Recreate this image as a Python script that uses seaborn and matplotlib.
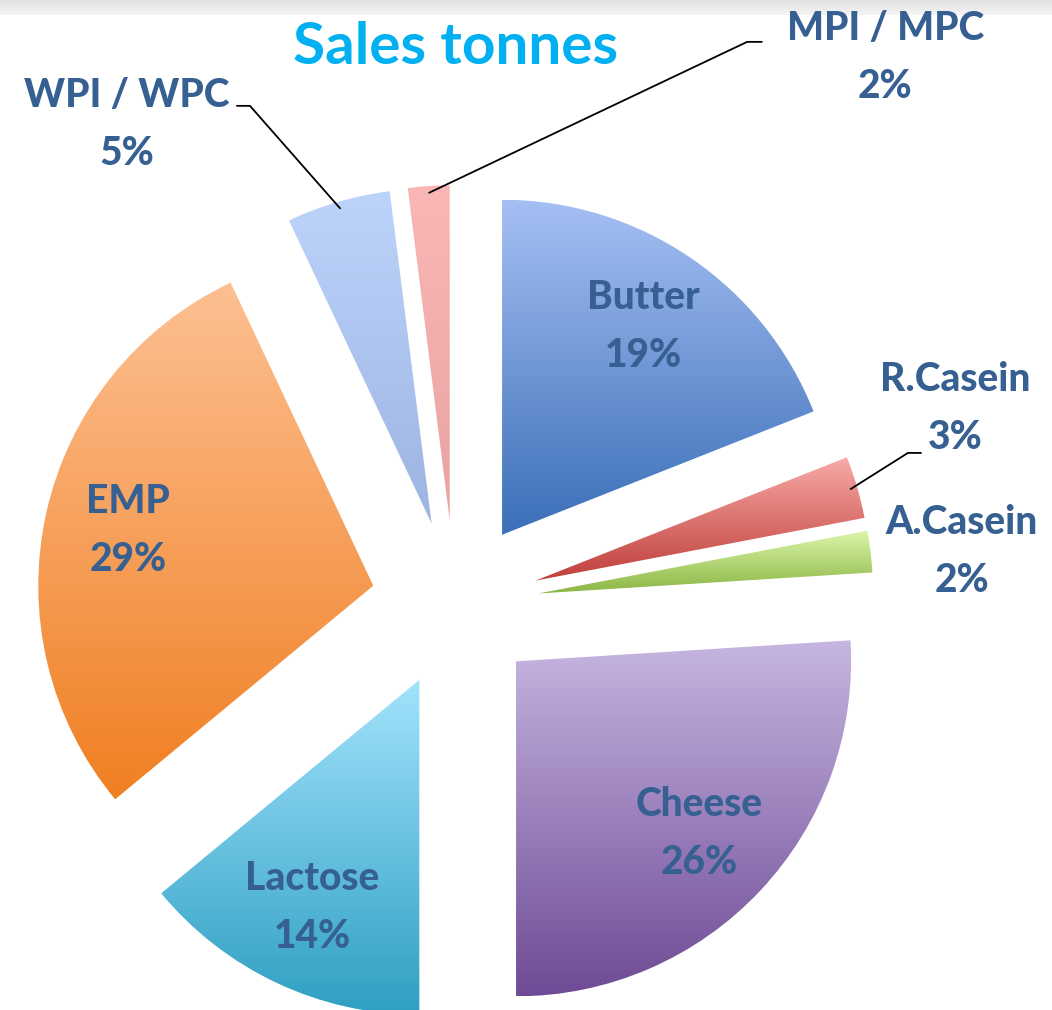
import numpy as np
import seaborn as sns
import matplotlib.pyplot as plt
from matplotlib.colors import LinearSegmentedColormap

sns.set_theme(style="white")
plt.rcParams["font.family"] = ["Lato", "DejaVu Sans"]

# sales share (%) clockwise from 12 o'clock
products = ["Butter", "R.Casein", "A.Casein", "Cheese", "Lactose", "EMP", "WPI / WPC", "MPI / MPC"]
shares = [19, 3, 2, 26, 14, 29, 5, 2]
top_colours = ["#a5bff3", "#f8aaa7", "#daf6aa", "#c7b6e1", "#a2e3fc", "#fdc092", "#bcd3fb", "#fbb7b5"]
bottom_colours = ["#3b6fb8", "#bf3f3a", "#8bb443", "#6e4b95", "#2e9fc2", "#f07f22", "#9db4e2", "#e8a2a2"]
inside = ["Butter", "Cheese", "Lactose", "EMP"]

text_col = "#376092"
label_kw = dict(ha="center", va="center", fontsize=28, fontweight=900,
                color=text_col, linespacing=1.7, zorder=3)

fig = plt.figure(figsize=(10.52, 10.10), dpi=100)

# faint grey band along the top edge
band = fig.add_axes([0, 1 - 15 / 1010, 1, 15 / 1010])
band.imshow(np.linspace(0, 1, 50).reshape(-1, 1), aspect="auto",
            cmap=LinearSegmentedColormap.from_list("band", ["#e2e2e2", "#f4f4f4"]))
band.axis("off")

ax = fig.add_axes([0, 0, 1, 1])
ax.patch.set_alpha(0)
wedges, _ = ax.pie(shares, startangle=90, counterclock=False, radius=1,
                   explode=[0.25] * len(shares), wedgeprops=dict(linewidth=0))

grad = np.linspace(0, 1, 256).reshape(-1, 1)
for w, name, c0, c1 in zip(wedges, products, top_colours, bottom_colours):
    w.set_facecolor("none")
    bb = w.get_path().get_extents()
    cmap = LinearSegmentedColormap.from_list(name, [c0, c1])
    im = ax.imshow(grad, extent=(bb.x0, bb.x1, bb.y0, bb.y1), origin="upper",
                   aspect="auto", cmap=cmap, interpolation="bicubic", zorder=1)
    im.set_clip_path(w)

    mid = np.deg2rad((w.theta1 + w.theta2) / 2)
    if name in inside:
        x = w.center[0] + 0.75 * np.cos(mid)
        y = w.center[1] + 0.75 * np.sin(mid)
        ax.text(x, y, f"{name}\n{shares[products.index(name)]}%", **label_kw)

# outside labels: text centre, leader start at text, elbow
outside = {
    "WPI / WPC": ((-0.979, 1.430), (-0.651, 1.487), (-0.612, 1.487)),
    "MPI / MPC": ((1.284, 1.630), (0.916, 1.678), (0.872, 1.678)),
    "R.Casein": ((1.493, 0.585), (1.391, 0.451), (1.352, 0.451)),
    "A.Casein": ((1.513, 0.158), None, None),
}
for name, (pos, start, elbow) in outside.items():
    i = products.index(name)
    w = wedges[i]
    ax.text(pos[0], pos[1], f"{name}\n{shares[i]}%", **label_kw)
    if start is not None:
        mid = np.deg2rad((w.theta1 + w.theta2) / 2)
        ex = w.center[0] + 0.98 * np.cos(mid)
        ey = w.center[1] + 0.98 * np.sin(mid)
        ax.plot([start[0], elbow[0], ex], [start[1], elbow[1], ey],
                color="black", lw=1.3, zorder=4)

ax.set_xlim(-455 / 335, 597 / 335)
ax.set_ylim(-406 / 335, 604 / 335)
ax.set_aspect("auto")
ax.axis("off")

fig.text(456 / 1052, 1 - 47 / 1010, "Sales tonnes", ha="center", va="center",
         fontsize=42, fontweight="bold", color="#00b0f0")

plt.savefig("out.png", dpi=100)
